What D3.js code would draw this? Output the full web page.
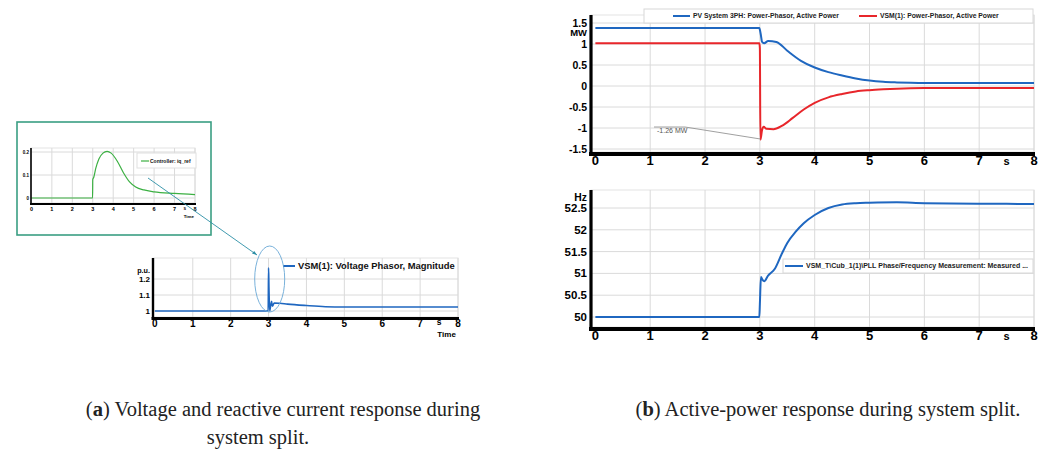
<!DOCTYPE html>
<html>
<head>
<meta charset="utf-8">
<script src="https://cdn.jsdelivr.net/npm/d3@7"></script>
<style>
  body { margin: 0; background: #fff; }
  svg { display: block; }
</style>
</head>
<body>
<div id="chart"></div>
<script>
// time axis ticks, shared by all panels
var timeTicks = [0, 1, 2, 3, 4, 5, 6, 7, 8];

// (b) top: active power, MW
var pvTime  = [0, 2.99, 3.0, 3.02, 3.04, 3.08, 3.15, 3.3, 3.5, 3.75, 4.0, 4.25, 4.5, 4.75, 5.0, 5.25, 5.5, 5.75, 6.0, 7.0, 8.0];
var pvPower = [1.38, 1.38, 1.34, 1.2, 1.05, 1.02, 1.07, 1.05, 0.84, 0.6, 0.44, 0.33, 0.25, 0.18, 0.13, 0.1, 0.085, 0.075, 0.07, 0.07, 0.07];
var vsmTime  = [0, 2.99, 3.0, 3.01, 3.04, 3.07, 3.12, 3.25, 3.4, 3.6, 3.8, 4.0, 4.25, 4.5, 4.75, 5.0, 5.25, 5.5, 5.75, 6.0, 7.0, 8.0];
var vsmPower = [1.02, 1.02, 0.9, -1.28, -1.05, -0.97, -1.02, -1.03, -0.95, -0.76, -0.56, -0.4, -0.27, -0.19, -0.13, -0.1, -0.08, -0.065, -0.055, -0.05, -0.05, -0.05];
var powerTicks = [-1.5, -1, -0.5, 0, 0.5, 1, 1.5];
var powerNames = ["PV System 3PH: Power-Phasor, Active Power", "VSM(1): Power-Phasor, Active Power"];

// (b) bottom: PLL frequency, Hz
var freqTime  = [0, 2.99, 3.0, 3.02, 3.05, 3.08, 3.15, 3.27, 3.4, 3.5, 3.65, 3.8, 4.0, 4.25, 4.5, 4.75, 5.0, 5.5, 6.0, 7.0, 8.0];
var freqValue = [50, 50, 50.3, 50.92, 50.85, 50.82, 50.95, 51.1, 51.45, 51.7, 51.95, 52.15, 52.34, 52.5, 52.58, 52.61, 52.62, 52.63, 52.61, 52.6, 52.59];
var freqTicks = [50, 50.5, 51, 51.5, 52, 52.5];
var freqName = "VSM_T\\Cub_1(1)\\PLL Phase/Frequency Measurement: Measured ...";

// (a) voltage magnitude, p.u.
var voltTime  = [0, 2.99, 3.0, 3.01, 3.03, 3.06, 3.08, 3.1, 3.15, 3.3, 3.5, 4.0, 4.5, 5.0, 6.0, 8.0];
var voltValue = [1.0, 1.0, 1.27, 1.15, 1.0, 1.04, 1.06, 1.03, 1.05, 1.048, 1.043, 1.034, 1.027, 1.025, 1.025, 1.025];
var voltTicks = [1, 1.1, 1.2];
var voltName = "VSM(1): Voltage Phasor, Magnitude";

// (a) inset: reactive current reference
var iqTime  = [0, 2.99, 3.0, 3.05, 3.15, 3.3, 3.5, 3.7, 3.9, 4.2, 4.5, 4.8, 5.1, 5.5, 6.0, 7.0, 8.0];
var iqValue = [0, 0, 0.08, 0.09, 0.13, 0.17, 0.195, 0.203, 0.195, 0.16, 0.11, 0.07, 0.048, 0.035, 0.027, 0.02, 0.015];
var iqTicks = [0, 0.1, 0.2];
var iqName = "Controller: iq_ref";

var captionA = ["Voltage and reactive current response during", "system split."];
var captionB = "Active-power response during system split.";

var W = 1044, H = 457;
var svg = d3.select("#chart").append("svg")
    .attr("width", W).attr("height", H)
    .attr("viewBox", [0, 0, W, H])
    .style("font-family", "Liberation Sans, Arial, sans-serif");

function toPoints(t, v) {
    return t.map(function (d, i) { return [d, v[i]]; });
}

// draw one PowerFactory-style plot
function drawPlot(o) {
    var g = svg.append("g");
    var x = d3.scaleLinear([o.x0, 8], [o.left, o.right]);
    var y = d3.scaleLinear([o.yTicks[0], o.yTicks[o.yTicks.length - 1]], o.yRange);

    // frame
    g.append("rect")
        .attr("x", o.left).attr("y", o.top)
        .attr("width", o.right - o.left).attr("height", o.bottom - o.top)
        .attr("fill", "none").attr("stroke", "#e4e4e4");

    // grid
    g.append("g").selectAll("line").data(o.xGrid).join("line")
        .attr("x1", d => x(d)).attr("x2", d => x(d))
        .attr("y1", o.top).attr("y2", o.bottom)
        .attr("stroke", "#dadada").attr("stroke-width", 1);
    g.append("g").selectAll("line").data(o.yTicks).join("line")
        .attr("x1", o.left).attr("x2", o.right)
        .attr("y1", d => y(d)).attr("y2", d => y(d))
        .attr("stroke", "#dadada").attr("stroke-width", 1);

    // series
    var line = d3.line().x(d => x(d[0])).y(d => y(d[1])).curve(d3.curveMonotoneX);
    o.series.forEach(function (s) {
        g.append("path").datum(toPoints(s.t, s.v))
            .attr("d", line)
            .attr("fill", "none")
            .attr("stroke", s.color)
            .attr("stroke-width", o.lineWidth)
            .attr("stroke-linejoin", "round");
    });

    // axes (thick black lines)
    g.append("line")
        .attr("x1", o.left).attr("x2", o.left)
        .attr("y1", o.top).attr("y2", o.bottom + o.axisW / 2)
        .attr("stroke", "#000").attr("stroke-width", o.axisW * 0.8);
    g.append("line")
        .attr("x1", o.left - o.axisW / 2).attr("x2", o.right + 1)
        .attr("y1", o.bottom + o.axisW / 2).attr("y2", o.bottom + o.axisW / 2)
        .attr("stroke", "#000").attr("stroke-width", o.axisW);

    // tick labels
    g.append("g").selectAll("text").data(timeTicks).join("text")
        .attr("x", d => x(d)).attr("y", o.xLabelY)
        .attr("text-anchor", "middle")
        .attr("font-weight", "bold").attr("font-size", o.xFont)
        .text(d => d);
    g.append("g").selectAll("text").data(o.yTicks).join("text")
        .attr("x", o.left - o.axisW).attr("y", d => y(d))
        .attr("dy", "0.35em")
        .attr("text-anchor", "end")
        .attr("font-weight", "bold").attr("font-size", o.yFont)
        .text(d => d);
    // "s" unit
    g.append("text")
        .attr("x", x(7.5)).attr("y", o.sY || o.xLabelY)
        .attr("text-anchor", "middle")
        .attr("font-weight", "bold").attr("font-size", o.xFont * 0.85)
        .text("s");
    if (o.unit) {
        g.append("text")
            .attr("x", o.left - o.axisW).attr("y", o.unitY)
            .attr("text-anchor", "end")
            .attr("font-weight", "bold").attr("font-size", o.yFont * 0.9)
            .text(o.unit);
    }
    if (o.timeLabel) {
        g.append("text")
            .attr("x", x(7.7)).attr("y", o.timeLabel)
            .attr("text-anchor", "middle")
            .attr("font-weight", "bold").attr("font-size", o.xFont * 0.8)
            .text("Time");
    }
    return {g: g, x: x, y: y};
}

// ---------- (b) top: active power ----------
var pTop = drawPlot({
    x0: -0.08, left: 591, right: 1034, top: 15, bottom: 152,
    yTicks: powerTicks, yRange: [149, 23], xGrid: [1, 2, 3, 4, 5, 6, 7, 8],
    axisW: 4, xFont: 13, yFont: 10.5, xLabelY: 165, unit: "MW", unitY: 36,
    lineWidth: 2,
    series: [
        {t: pvTime, v: pvPower, color: "#1f67c0"},
        {t: vsmTime, v: vsmPower, color: "#e8262b"}
    ]
});

// legend box
var lgTop = pTop.g.append("g");
lgTop.append("rect").attr("x", 644).attr("y", 9).attr("width", 389).attr("height", 14)
    .attr("fill", "#fff").attr("stroke", "#d8d8d8");
[[673, 693, "#1f67c0"], [859, 880, "#e8262b"]].forEach(function (d, i) {
    lgTop.append("line").attr("x1", d[0]).attr("x2", d[1] - 3).attr("y1", 16).attr("y2", 16)
        .attr("stroke", d[2]).attr("stroke-width", 2);
    lgTop.append("text").attr("x", d[1]).attr("y", 16).attr("dy", "0.35em")
        .attr("font-size", 6.8).attr("font-weight", "bold").attr("fill", "#222")
        .text(powerNames[i]);
});

// -1.26 MW annotation
var ann = pTop.g.append("g");
ann.append("polyline")
    .attr("points", [[654, 127], [685, 127], [pTop.x(3.0), pTop.y(-1.26)]].join(" "))
    .attr("fill", "none").attr("stroke", "#888").attr("stroke-width", 0.8);
ann.append("text").attr("x", 657).attr("y", 131).attr("dy", "0.35em")
    .attr("font-size", 7).attr("fill", "#555").text("-1.26 MW");

// ---------- (b) bottom: frequency ----------
var pBot = drawPlot({
    x0: -0.08, left: 591, right: 1034, top: 190, bottom: 327,
    yTicks: freqTicks, yRange: [317, 208], xGrid: [1, 2, 3, 4, 5, 6, 7, 8],
    axisW: 4, xFont: 13, yFont: 11.5, xLabelY: 340, unit: "Hz", unitY: 201,
    lineWidth: 2,
    series: [{t: freqTime, v: freqValue, color: "#1f67c0"}]
});
var lgBot = pBot.g.append("g");
lgBot.append("rect").attr("x", 783).attr("y", 259).attr("width", 250).attr("height", 14)
    .attr("fill", "#fff").attr("stroke", "#d8d8d8");
lgBot.append("line").attr("x1", 785).attr("x2", 803).attr("y1", 266).attr("y2", 266)
    .attr("stroke", "#1f67c0").attr("stroke-width", 2);
lgBot.append("text").attr("x", 806).attr("y", 266).attr("dy", "0.35em")
    .attr("font-size", 7).attr("font-weight", "bold").attr("fill", "#222")
    .text(freqName);

// ---------- (a) voltage ----------
var pV = drawPlot({
    x0: -0.05, left: 153, right: 458, top: 258, bottom: 317,
    yTicks: voltTicks, yRange: [311, 279], xGrid: [1, 2, 3, 4, 5, 6, 7, 8],
    axisW: 3, xFont: 10, yFont: 8, xLabelY: 327, sY: 325, unit: "p.u.", unitY: 273,
    timeLabel: 337, lineWidth: 1.6,
    series: [{t: voltTime, v: voltValue, color: "#1f67c0"}]
});
pV.g.append("line").attr("x1", 283).attr("x2", 295).attr("y1", 266).attr("y2", 266)
    .attr("stroke", "#1f67c0").attr("stroke-width", 2);
pV.g.append("text").attr("x", 298).attr("y", 266).attr("dy", "0.35em")
    .attr("font-size", 9.4).attr("font-weight", "bold").attr("fill", "#111")
    .text(voltName);
pV.g.append("ellipse")
    .attr("cx", pV.x(3.03)).attr("cy", 279).attr("rx", 15).attr("ry", 33)
    .attr("fill", "none").attr("stroke", "#6aa8d6").attr("stroke-width", 0.9);

// ---------- (a) inset: iq_ref ----------
svg.append("rect").attr("x", 17).attr("y", 122).attr("width", 194).attr("height", 113)
    .attr("fill", "#fff").attr("stroke", "#3a9e83").attr("stroke-width", 1.6);
var pI = drawPlot({
    x0: -0.02, left: 31, right: 195, top: 148, bottom: 203,
    yTicks: iqTicks, yRange: [198, 152], xGrid: [1, 2, 3, 4, 5, 6, 7, 8],
    axisW: 2, xFont: 5.5, yFont: 4.5, xLabelY: 211, sY: 210, unit: null,
    timeLabel: 218, lineWidth: 1.2,
    series: [{t: iqTime, v: iqValue, color: "#3cb043"}]
});
pI.g.append("rect").attr("x", 137).attr("y", 153).attr("width", 59).attr("height", 15)
    .attr("fill", "#fff").attr("stroke", "#e0e0e0");
pI.g.append("line").attr("x1", 141).attr("x2", 149).attr("y1", 161).attr("y2", 161)
    .attr("stroke", "#3cb043").attr("stroke-width", 1.2);
pI.g.append("text").attr("x", 150).attr("y", 161).attr("dy", "0.35em")
    .attr("font-size", 5).attr("font-weight", "bold").attr("fill", "#111")
    .text(iqName);

// connector from inset to ellipse
svg.append("line").attr("x1", 148).attr("y1", 178).attr("x2", 257).attr("y2", 255)
    .attr("stroke", "#2b8ea6").attr("stroke-width", 0.9);
svg.append("path").attr("d", "M257,255 l-5,-1.5 l2.2,-2.6 z").attr("fill", "#2b8ea6");

// ---------- captions ----------
var cap = svg.append("g")
    .style("font-family", "Liberation Serif, 'DejaVu Serif', serif")
    .attr("font-size", 20.5).attr("fill", "#222");
var ta = cap.append("text").attr("x", 283).attr("y", 416).attr("text-anchor", "middle");
ta.append("tspan").text("(");
ta.append("tspan").attr("font-weight", "bold").text("a");
ta.append("tspan").text(") " + captionA[0]);
cap.append("text").attr("x", 258).attr("y", 444).attr("text-anchor", "middle").text(captionA[1]);
var tb = cap.append("text").attr("x", 828).attr("y", 416).attr("text-anchor", "middle");
tb.append("tspan").text("(");
tb.append("tspan").attr("font-weight", "bold").text("b");
tb.append("tspan").text(") " + captionB);
</script>
</body>
</html>
